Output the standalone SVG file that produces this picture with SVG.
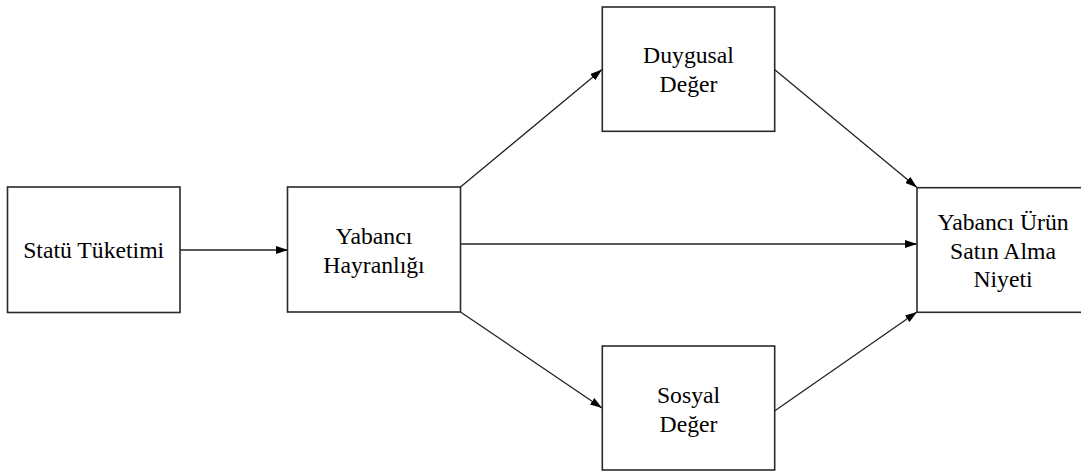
<svg xmlns="http://www.w3.org/2000/svg" width="1081" height="473" viewBox="0 0 1081 473">
<defs>
<marker id="arr" viewBox="0 0 12 8" refX="12" refY="4" markerWidth="12" markerHeight="8" markerUnits="userSpaceOnUse" orient="auto">
<path d="M0,0 L12,4 L0,8 z" fill="#000"/>
</marker>
<style>
.box{fill:#fff;stroke:#2a2a2a;stroke-width:1.6}
.t{font-family:"Liberation Serif","Times New Roman",serif;font-size:23.7px;fill:#000;text-anchor:middle}
.c{stroke:#222;stroke-width:1.3;fill:none;marker-end:url(#arr)}
</style>
</defs>
<rect width="1081" height="473" fill="#fff"/>
<g id="connectors">
<line class="c" x1="180" y1="250" x2="288" y2="250"/>
<line class="c" x1="460.5" y1="187" x2="602" y2="69.5"/>
<line class="c" x1="460.5" y1="244" x2="917" y2="244"/>
<line class="c" x1="460.5" y1="312" x2="602" y2="408"/>
<line class="c" x1="774.5" y1="69.5" x2="917" y2="187.5"/>
<line class="c" x1="774.5" y1="411" x2="917" y2="312"/>
</g>
<g id="statu">
<rect class="box" x="7.5" y="187" width="172.5" height="125.5"/>
<text class="t" x="93.7" y="258">Statü Tüketimi</text>
</g>
<g id="hayranlik">
<rect class="box" x="287.5" y="187" width="173" height="125"/>
<text class="t" x="374" y="244">Yabancı</text>
<text class="t" x="374" y="272.5">Hayranlığı</text>
</g>
<g id="duygusal">
<rect class="box" x="602.3" y="7" width="172.4" height="124.3"/>
<text class="t" x="688.5" y="63.3">Duygusal</text>
<text class="t" x="688.5" y="92">Değer</text>
</g>
<g id="sosyal">
<rect class="box" x="602.3" y="346" width="172.4" height="124"/>
<text class="t" x="688.5" y="402.7">Sosyal</text>
<text class="t" x="688.5" y="431.7">Değer</text>
</g>
<g id="niyet">
<rect class="box" x="917" y="187.7" width="172" height="124.6"/>
<text class="t" x="1003" y="230">Yabancı Ürün</text>
<text class="t" x="1003" y="259">Satın Alma</text>
<text class="t" x="1003" y="287">Niyeti</text>
</g>
</svg>
